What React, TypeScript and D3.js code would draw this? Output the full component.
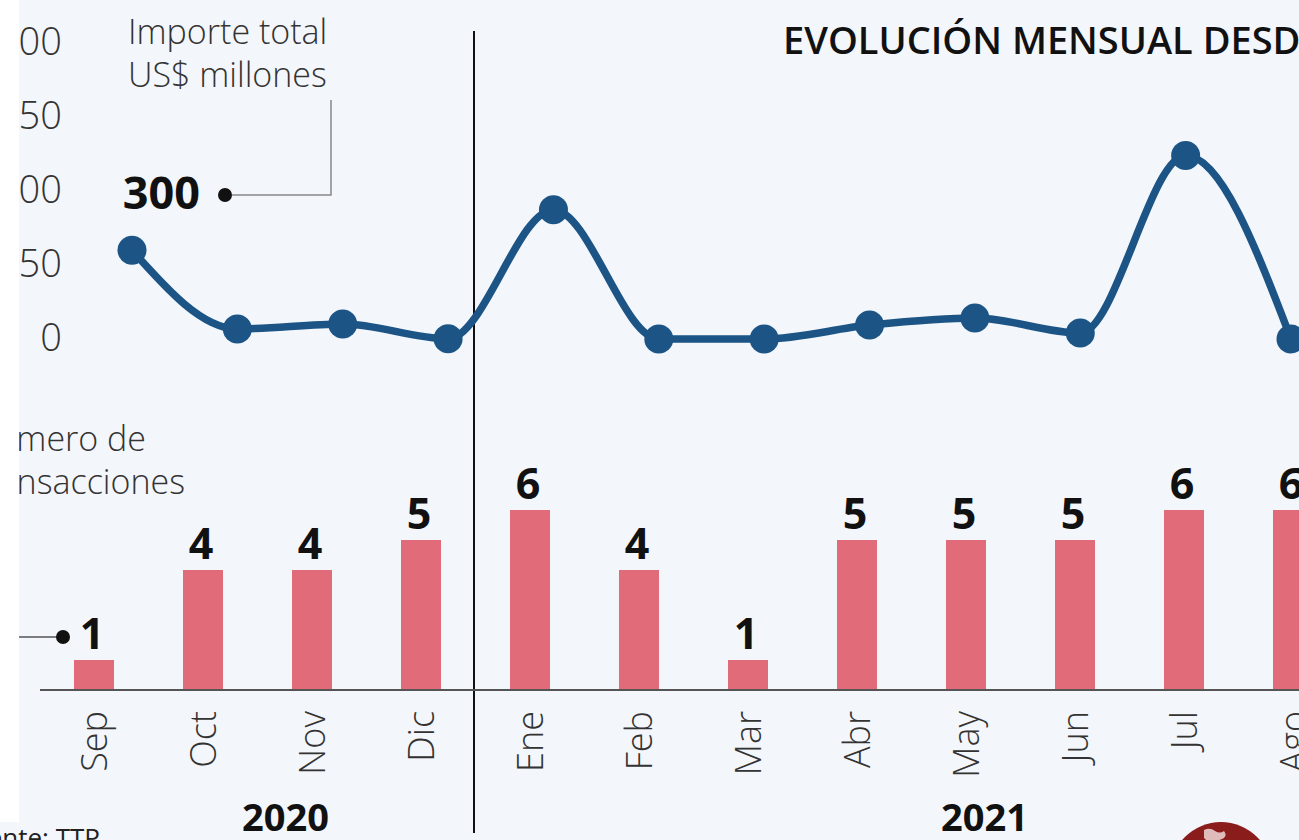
import React, { useEffect } from "react";
import * as d3 from "d3";

const months = ["Sep", "Oct", "Nov", "Dic", "Ene", "Feb", "Mar", "Abr", "May", "Jun", "Jul", "Ago"];
const importe = [300, 34, 51, 1, 437, 0, 0, 47, 71, 20, 620, 0];
const transacciones = [1, 4, 4, 5, 6, 4, 1, 5, 5, 5, 6, 6];
const yTicks = [0, 250, 500, 750, 1000];
const years = [
  { label: "2020", from: "Sep", to: "Dic" },
  { label: "2021", from: "Ene", to: "Ago" },
];

const W = 1299;
const H = 840;
const LIGHT = "'Open Sans', 'Noto Sans', sans-serif";

export default function App() {
  useEffect(() => {
    document.body.style.margin = "0";
    document.body.style.overflow = "hidden";
  }, []);

  const xLine = d3.scalePoint<string>().domain(months).range([132, 1291]);
  const xBar = d3.scalePoint<string>().domain(months).range([94, 1293]);
  const yLine = d3.scaleLinear().domain([0, 1000]).range([339, 43]);
  const yBar = d3.scaleLinear().domain([0, 6]).range([690, 510]);
  const barW = 40;

  const line = d3
    .line<number>()
    .x((_, i) => xLine(months[i]) as number)
    .y((d) => yLine(d))
    .curve(d3.curveMonotoneX);

  const divX = 474;

  return (
    <svg width={W} height={H} style={{ position: "absolute", left: 0, top: 0, display: "block" }}>
      <rect x={0} y={0} width={W} height={H} fill="#f3f6fa" />

      {/* y axis tick labels */}
      {yTicks.map((t) => (
        <text
          key={t}
          x={62}
          y={yLine(t) - 1}
          dy="0.35em"
          textAnchor="end"
          fontFamily={LIGHT}
          fontWeight={300}
          fontSize={38}
          fill="#333"
        >
          {t}
        </text>
      ))}

      {/* title */}
      <text x={783} y={54} fontFamily={LIGHT} fontWeight={600} fontSize={38} fill="#111">
        EVOLUCIÓN MENSUAL DESDE
      </text>

      {/* line label */}
      <text x={128} y={44} fontFamily={LIGHT} fontWeight={300} fontSize={34} fill="#333">
        Importe total
      </text>
      <text x={128} y={87} fontFamily={LIGHT} fontWeight={300} fontSize={34} fill="#333">
        US$ millones
      </text>
      <polyline points="232,195 331,195 331,100" fill="none" stroke="#888" strokeWidth={1.5} />
      <circle cx={225} cy={195} r={7} fill="#111" />
      <text x={200} y={209} textAnchor="end" fontFamily={LIGHT} fontWeight={700} fontSize={45} fill="#111">
        {importe[0]}
      </text>

      {/* divider */}
      <line x1={divX} x2={divX} y1={31} y2={833} stroke="#111" strokeWidth={2} />

      {/* bars */}
      {transacciones.map((v, i) => (
        <g key={months[i]}>
          <rect
            x={(xBar(months[i]) as number) - barW / 2}
            y={yBar(v)}
            width={barW}
            height={yBar(0) - yBar(v)}
            fill="#e26b7a"
          />
          <text
            x={(xBar(months[i]) as number) - 2}
            y={yBar(v) - 11}
            textAnchor="middle"
            fontFamily={LIGHT}
            fontWeight={700}
            fontSize={43}
            fill="#111"
          >
            {v}
          </text>
        </g>
      ))}

      {/* baseline */}
      <line x1={40} x2={W} y1={yBar(0)} y2={yBar(0)} stroke="#555" strokeWidth={2} />

      {/* bar label */}
      <text x={146} y={451} textAnchor="end" fontFamily={LIGHT} fontWeight={300} fontSize={34} fill="#333">
        Número de
      </text>
      <text x={185} y={494} textAnchor="end" fontFamily={LIGHT} fontWeight={300} fontSize={34} fill="#333">
        transacciones
      </text>
      <line x1={0} x2={57} y1={637} y2={637} stroke="#555" strokeWidth={1.5} />
      <circle cx={63} cy={637} r={7} fill="#111" />

      {/* line series */}
      <path d={line(importe) || ""} fill="none" stroke="#1b5485" strokeWidth={7.5} />
      {importe.map((v, i) => (
        <circle key={months[i]} cx={xLine(months[i]) as number} cy={yLine(v)} r={14.5} fill="#1b5485" />
      ))}

      {/* month labels */}
      {months.map((m) => (
        <text
          key={m}
          transform={`translate(${xBar(m)},711) rotate(-90)`}
          dy="0.35em"
          textAnchor="end"
          fontFamily={LIGHT}
          fontWeight={300}
          fontSize={36}
          fill="#333"
        >
          {m}
        </text>
      ))}

      {/* year labels */}
      {years.map((yr) => {
        const mid = ((xBar(yr.from) as number) + (xBar(yr.to) as number)) / 2;
        const cx = yr.label === "2020" ? mid + 28 : mid + 73;
        return (
          <text
            key={yr.label}
            x={cx}
            y={831}
            textAnchor="middle"
            fontFamily={LIGHT}
            fontWeight={700}
            fontSize={38}
            fill="#111"
          >
            {yr.label}
          </text>
        );
      })}

      {/* left white strip */}
      <rect x={0} y={0} width={19} height={822} fill="#ffffff" />

      {/* source */}
      <text x={100} y={847} textAnchor="end" fontFamily={LIGHT} fontWeight={400} fontSize={26} fill="#222">
        Fuente: TTP
      </text>

      {/* logo */}
      <circle cx={1221} cy={873} r={51} fill="#8a1c1c" />
      <path d="M1204,830 q6,-3 11,1 q5,3 9,0 q4,5 -2,8 q-6,2 -9,6 q-5,-3 -9,-7 z" fill="#f0d6d6" opacity={0.85} />
    </svg>
  );
}
